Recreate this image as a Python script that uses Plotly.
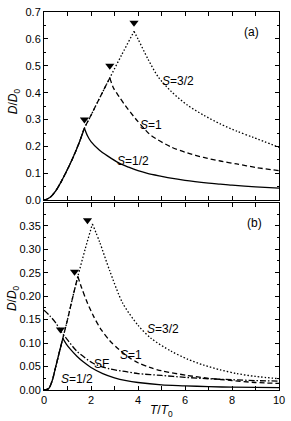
import plotly.graph_objects as go
from plotly.subplots import make_subplots

# ---------------- Panel (a) data ----------------
a_rise_T = [0, 0.25, 0.5, 0.75, 1.0, 1.25, 1.5, 1.72, 2.0, 2.4, 2.8, 3.3, 3.83]
a_rise_D = [0, 0.01, 0.035, 0.072, 0.115, 0.162, 0.215, 0.268, 0.316, 0.386, 0.455, 0.54, 0.628]

a_half_T = [1.72, 1.85, 2.0, 2.34, 2.7, 3.2, 3.6, 4.0, 4.4, 5.0, 5.4, 6.0, 7.0, 7.5, 8.0, 9.0, 10.0]
a_half_D = [0.268, 0.24, 0.218, 0.188, 0.165, 0.138, 0.123, 0.11, 0.1, 0.089, 0.082, 0.074, 0.064, 0.06, 0.056, 0.05, 0.045]

a_one_T = [2.8, 2.97, 3.2, 3.46, 3.88, 4.3, 4.57, 5.41, 6.1, 6.8, 7.5, 8.2, 9.0, 10.0]
a_one_D = [0.455, 0.415, 0.385, 0.352, 0.305, 0.263, 0.24, 0.198, 0.176, 0.159, 0.146, 0.135, 0.122, 0.11]

a_three_T = [3.83, 4.0, 4.43, 4.85, 5.41, 6.1, 6.8, 7.5, 8.2, 8.9, 10.0]
a_three_D = [0.628, 0.6, 0.524, 0.46, 0.405, 0.354, 0.316, 0.284, 0.257, 0.234, 0.197]

a_mark_T = [1.72, 2.80, 3.83]
a_mark_D = [0.30, 0.50, 0.66]

# ---------------- Panel (b) data ----------------
b_rise_T = [0, 0.2, 0.35, 0.5, 0.65, 0.8, 1.0, 1.2, 1.44, 1.75, 2.06]
b_rise_D = [0, 0.003, 0.02, 0.05, 0.08, 0.11, 0.15, 0.193, 0.242, 0.3, 0.354]

b_half_T = [0.8, 0.95, 1.12, 1.4, 1.67, 2.0, 2.5, 3.0, 3.5, 4.0, 5.0, 6.0, 7.0, 8.0, 10.0]
b_half_D = [0.11, 0.098, 0.087, 0.072, 0.06, 0.048, 0.035, 0.026, 0.02, 0.016, 0.011, 0.009, 0.007, 0.006, 0.005]

b_one_T = [1.44, 1.6, 1.81, 2.1, 2.44, 2.8, 3.2, 3.6, 4.0, 4.5, 5.0, 6.1, 7.0, 8.0, 9.0, 10.0]
b_one_D = [0.242, 0.218, 0.19, 0.158, 0.128, 0.105, 0.086, 0.07, 0.058, 0.048, 0.041, 0.031, 0.025, 0.02, 0.016, 0.014]

b_three_T = [2.06, 2.37, 2.79, 3.35, 4.0, 4.56, 5.4, 6.1, 6.8, 7.5, 8.2, 9.0, 10.0]
b_three_D = [0.354, 0.315, 0.255, 0.185, 0.138, 0.11, 0.083, 0.066, 0.053, 0.043, 0.035, 0.029, 0.024]

b_sf_T = [0, 0.25, 0.5, 0.75, 1.0, 1.39, 2.09, 2.79, 3.5, 4.0, 5.0, 6.0, 7.0, 8.0, 9.0, 10.0]
b_sf_D = [0.17, 0.158, 0.143, 0.123, 0.107, 0.083, 0.057, 0.045, 0.039, 0.035, 0.031, 0.027, 0.024, 0.022, 0.02, 0.019]

b_mark_T = [0.70, 1.30, 1.85]
b_mark_D = [0.129, 0.252, 0.362]

# ---------------- build ----------------
SOLID = "solid"
DASH = "5px,3px"
DOT = "1.5px,2px"
DASHDOT = "6px,2px,1.5px,2px"
LW = 1.3

fig = make_subplots(rows=2, cols=1, shared_xaxes=False, vertical_spacing=0.008,
                    row_heights=[0.502, 0.498])


def line(row, T, D, dash, shape="spline"):
    fig.add_trace(go.Scatter(x=T, y=D, mode="lines",
                             line=dict(color="black", width=LW, dash=dash, shape=shape, smoothing=0.8),
                             showlegend=False, hoverinfo="skip"), row=row, col=1)


def add_curve(row, rT, rD, dT, dD, dash):
    t1 = [t for t in rT if t <= dT[0]]
    d1 = [d for t, d in zip(rT, rD) if t <= dT[0]]
    line(row, t1, d1, dash)
    line(row, dT, dD, dash)


add_curve(1, a_rise_T, a_rise_D, a_three_T, a_three_D, DOT)
add_curve(1, a_rise_T, a_rise_D, a_one_T, a_one_D, DASH)
add_curve(1, a_rise_T, a_rise_D, a_half_T, a_half_D, SOLID)
fig.add_trace(go.Scatter(x=a_mark_T, y=a_mark_D, mode="markers",
                         marker=dict(symbol="triangle-down", size=8, color="black"),
                         showlegend=False), row=1, col=1)

add_curve(2, b_rise_T, b_rise_D, b_three_T, b_three_D, DOT)
add_curve(2, b_rise_T, b_rise_D, b_one_T, b_one_D, DASH)
add_curve(2, b_rise_T, b_rise_D, b_half_T, b_half_D, SOLID)
line(2, b_sf_T, b_sf_D, DASHDOT)
fig.add_trace(go.Scatter(x=b_mark_T, y=b_mark_D, mode="markers",
                         marker=dict(symbol="triangle-down", size=8, color="black"),
                         showlegend=False), row=2, col=1)

FONT = "Liberation Sans, Arial, sans-serif"
axcommon = dict(showline=True, linecolor="black", linewidth=1, mirror="allticks",
                ticks="inside", ticklen=4, tickcolor="black", showgrid=False, zeroline=False,
                ticklabeloverflow="allow",
                tickfont=dict(family=FONT, size=11, color="black"))

fig.update_xaxes(range=[0, 10], dtick=2, tick0=0, showticklabels=False,
                 minor=dict(dtick=1, ticks="inside", ticklen=4, tickcolor="black"),
                 **axcommon, row=1, col=1)
fig.update_xaxes(range=[0, 10], dtick=2, tick0=0, showticklabels=True,
                 minor=dict(dtick=1, ticks="inside", ticklen=4, tickcolor="black"),
                 **axcommon, row=2, col=1)
fig.update_yaxes(range=[0, 0.7002], dtick=0.1, tick0=0, tickformat=".1f",
                 minor=dict(dtick=0.05, ticks="inside", ticklen=2, tickcolor="black"),
                 **axcommon, row=1, col=1)
fig.update_yaxes(range=[0, 0.398], dtick=0.05, tick0=0, tickformat=".2f",
                 minor=dict(dtick=0.025, ticks="inside", ticklen=2, tickcolor="black"),
                 **axcommon, row=2, col=1)

W, H = 291, 421
L, R, T, B = 44, 7, 6, 31
pw, ph = W - L - R, H - T - B

ann = []


def lab(text, x, y, ref, size=12):
    ann.append(dict(text=text, x=x, y=y, xref="x" + ref, yref="y" + ref, showarrow=False,
                    xanchor="center", yanchor="middle",
                    font=dict(family=FONT, size=size, color="black")))


lab("(a)", 8.83, 0.627, "")
lab("<i>S</i>=3/2", 5.69, 0.445, "")
lab("<i>S</i>=1", 4.56, 0.281, "")
lab("<i>S</i>=1/2", 3.8, 0.146, "")
lab("(b)", 8.95, 0.355, "2")
lab("<i>S</i>=3/2", 5.06, 0.131, "2")
lab("<i>S</i>=1", 3.72, 0.074, "2")
lab("SF", 2.43, 0.055, "2")
lab("<i>S</i>=1/2", 1.42, 0.024, "2")

for yc in [97, 297]:
    ann.append(dict(text="<i>D</i>/<i>D</i><sub>0</sub>", x=(13 - L) / pw, y=(H - yc - B) / ph,
                    xref="paper", yref="paper", showarrow=False, textangle=-90,
                    xanchor="center", yanchor="middle",
                    font=dict(family=FONT, size=12, color="black")))
ann.append(dict(text="<i>T</i>/<i>T</i><sub>0</sub>", x=(164 - L) / pw, y=(H - 411 - B) / ph,
                xref="paper", yref="paper", showarrow=False,
                xanchor="center", yanchor="middle",
                font=dict(family=FONT, size=12, color="black")))

fig.update_layout(annotations=ann, width=W, height=H, margin=dict(l=L, r=R, t=T, b=B),
                  plot_bgcolor="white", paper_bgcolor="white", showlegend=False)

fig.write_html("out.html", config={"displayModeBar": False},
               post_script="document.body.style.margin='0';")
